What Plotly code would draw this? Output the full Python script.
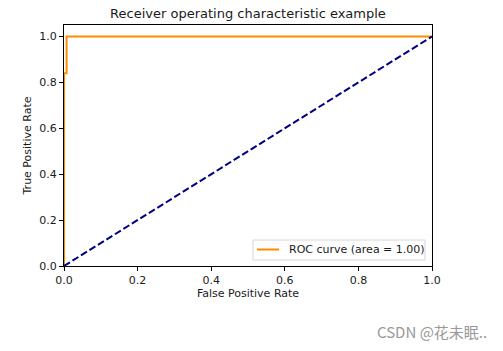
import plotly.graph_objects as go

fpr = [0.0, 0.0, 0.007, 0.007, 1.0]
tpr = [0.0, 0.84, 0.84, 1.0, 1.0]
diag_x = [0.0, 1.0]
diag_y = [0.0, 1.0]
roc_auc = 1.00
x_ticks = [0.0, 0.2, 0.4, 0.6, 0.8, 1.0]
y_ticks = [0.0, 0.2, 0.4, 0.6, 0.8, 1.0]

font = "DejaVu Sans"
fig = go.Figure()
fig.add_trace(go.Scatter(x=fpr, y=tpr, mode="lines",
                         line=dict(color="darkorange", width=2),
                         name="ROC curve (area = %0.2f)" % roc_auc, showlegend=False))
fig.add_trace(go.Scatter(x=diag_x, y=diag_y, mode="lines",
                         line=dict(color="navy", width=2, dash="7px,3px"),
                         showlegend=False))

axis_common = dict(showgrid=False, zeroline=False, showline=True, linecolor="black",
                   linewidth=1, mirror=True, ticks="outside", ticklen=4, tickcolor="black",
                   layer="above traces",
                   tickfont=dict(family=font, size=11, color="#1a1a1a"))
fig.update_xaxes(range=[0, 1.0], tickvals=x_ticks, ticktext=["%.1f" % v for v in x_ticks],
                 title=dict(text="False Positive Rate", font=dict(family=font, size=11, color="#1a1a1a"), standoff=3),
                 **axis_common)
fig.update_yaxes(range=[0, 1.05], tickvals=y_ticks, ticktext=["%.1f" % v for v in y_ticks],
                 title=dict(text="True Positive Rate", font=dict(family=font, size=11, color="#1a1a1a"), standoff=5),
                 **axis_common)

# manual matplotlib-style legend (pixel-based paper coords)
W, H = 503, 351
L, R, T, B = 64, 71, 25, 85
pw, ph = W - L - R, H - T - B
def px(x): return (x - L) / pw
def py(y): return (H - B - y) / ph

shapes = [
    dict(type="rect", xref="paper", yref="paper", x0=px(253), x1=px(425), y0=py(260), y1=py(240),
         line=dict(color="#d6d6d6", width=1), fillcolor="rgba(255,255,255,0.8)", layer="above"),
    dict(type="line", xref="paper", yref="paper", x0=px(257), x1=px(279), y0=py(249.5), y1=py(249.5),
         line=dict(color="darkorange", width=2), layer="above"),
]

fig.update_layout(
    width=W, height=H,
    margin=dict(l=L, r=R, t=T, b=B),
    paper_bgcolor="white", plot_bgcolor="white",
    showlegend=False,
    title=dict(text="Receiver operating characteristic example", x=0.493, xanchor="center",
               y=0.962, yanchor="middle", font=dict(family=font, size=13, color="#1a1a1a")),
    shapes=shapes,
    annotations=[
        dict(text="ROC curve (area = %0.2f)" % roc_auc, xref="paper", yref="paper", x=px(287), y=py(249.5),
             xanchor="left", yanchor="middle", showarrow=False,
             font=dict(family=font, size=11, color="#1a1a1a")),
        dict(text="CSDN @花未眠..", xref="paper", yref="paper", x=px(489), y=py(331),
             xanchor="right", yanchor="middle", showarrow=False,
             font=dict(family="Noto Sans CJK SC", size=15, color="#999999")),
    ],
)

fig.write_html("out.html")
